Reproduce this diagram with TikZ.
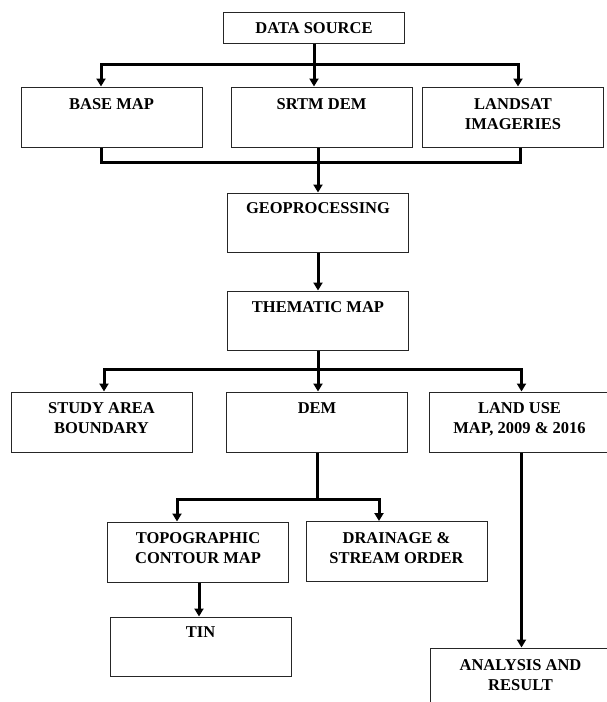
\documentclass[tikz,border=0pt]{standalone}
\usepackage{fontspec}
\setmainfont{Liberation Serif}
\usetikzlibrary{arrows.meta,calc}
\begin{document}
\begin{tikzpicture}[x=1pt,y=-1pt,
 box/.style={draw=black!85, line width=1pt, minimum width=181pt, minimum height=60pt, inner sep=0pt},
 lbl/.style={anchor=north, inner sep=0pt, align=center, font=\bfseries\fontsize{16.5}{20}\selectfont},
 conn/.style={line width=3pt, black},
 arr/.style={conn, -{Triangle[width=9pt,length=8pt]}}]
\useasboundingbox (0,0) rectangle (606,702);

% boxes
\node[box, minimum height=31pt] (ds) at (314,27.5) {};
\node[box] (bm) at (111.5,117) {};
\node[box] (srtm) at (321.5,117) {};
\node[box] (ls) at (513,117) {};
\node[box, minimum height=59pt] (geo) at (318,222.5) {};
\node[box, minimum height=59pt] (them) at (318,320.5) {};
\node[box] (sa) at (101.5,422) {};
\node[box] (dem) at (317,422) {};
\node[box] (lu) at (519.5,422) {};
\node[box] (topo) at (198,552) {};
\node[box] (dr) at (396.5,551.5) {};
\node[box, minimum height=59pt] (tin) at (200.5,646.5) {};
\node[box] (an) at (520.5,678) {};

% labels
\node[lbl] (dst) at ([yshift=-11pt]ds.north) {DATA SOURCE};
\node[lbl] (bmt) at ([yshift=-12pt]bm.north) {BASE MAP};
\node[lbl] (srtmt) at ([yshift=-12pt]srtm.north) {SRTM DEM};
\node[lbl] (lst) at ([yshift=-12pt]ls.north) {LANDSAT\\IMAGERIES};
\node[lbl] (geot) at ([yshift=-10pt]geo.north) {GEOPROCESSING};
\node[lbl] (themt) at ([yshift=-11pt]them.north) {THEMATIC MAP};
\node[lbl] (sat) at ([yshift=-11pt]sa.north) {STUDY AREA\\BOUNDARY};
\node[lbl] (demt) at ([yshift=-11pt]dem.north) {DEM};
\node[lbl] (lut) at ([yshift=-11pt]lu.north) {LAND USE\\MAP, 2009 \& 2016};
\node[lbl] (topot) at ([yshift=-11pt]topo.north) {TOPOGRAPHIC\\CONTOUR MAP};
\node[lbl] (drt) at ([yshift=-11pt]dr.north) {DRAINAGE \&\\STREAM ORDER};
\node[lbl] (tint) at ([yshift=-10pt]tin.north) {TIN};
\node[lbl] (ant) at ([yshift=-12pt]an.north) {ANALYSIS AND\\RESULT};

% data source -> three sources
\coordinate (t1) at (314,64);
\draw[conn] (ds.south) -- (t1);
\draw[arr] (t1) -| ([xshift=-10.5pt]bm.north);
\draw[arr] (t1) -| ([xshift=5pt]ls.north);
\draw[arr] (t1) -- ([xshift=-7.5pt]srtm.north);

% three sources -> geoprocessing
\coordinate (m1) at (318,162);
\draw[conn] ([xshift=-10.5pt]bm.south) |- (m1);
\draw[conn] ([xshift=7pt]ls.south) |- (m1);
\draw[arr] ([xshift=-3.5pt]srtm.south) -- (geo.north);

% geoprocessing -> thematic map
\draw[arr] (geo.south) -- (them.north);

% thematic map -> three outputs
\coordinate (h1) at (318,369);
\draw[conn] (them.south) -- (h1);
\draw[arr] (h1) -| ([xshift=2.5pt]sa.north);
\draw[arr] (h1) -| ([xshift=2pt]lu.north);
\draw[arr] (h1) -- ([xshift=1pt]dem.north);

% DEM -> topographic / drainage
\coordinate (d1) at (317,499);
\draw[conn] (dem.south) -- (d1);
\draw[arr] (d1) -| ([xshift=-21pt]topo.north);
\draw[arr] (d1) -| ([xshift=-17.5pt]dr.north);

% topographic -> TIN
\draw[arr] ([xshift=1pt]topo.south) -- ([xshift=-1.5pt]tin.north);

% land use -> analysis
\draw[arr] ([xshift=2pt]lu.south) -- ([xshift=1pt]an.north);
\end{tikzpicture}
\end{document}
